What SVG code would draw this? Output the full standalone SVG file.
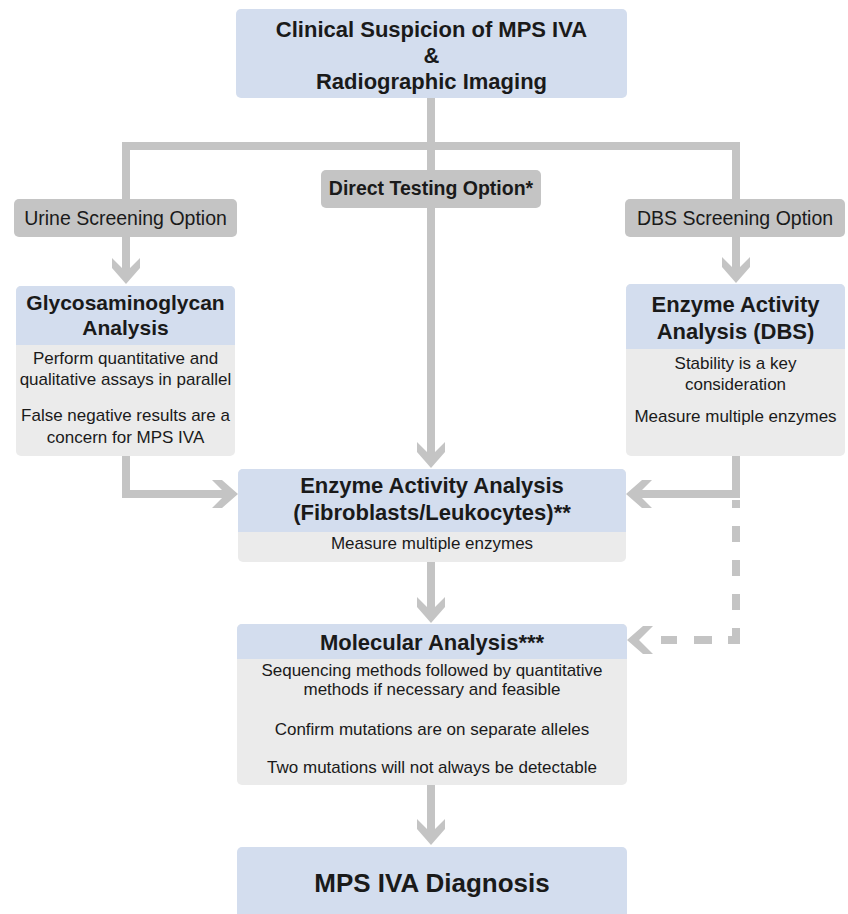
<svg xmlns="http://www.w3.org/2000/svg" xmlns:xlink="http://www.w3.org/1999/xlink" width="848" height="914" viewBox="0 0 848 914">
<defs>
<style>
text{font-family:"Liberation Sans",Arial,Helvetica,sans-serif;fill:#1a1a1a;text-anchor:middle}
.t{font-size:22px;font-weight:bold}
.tg{font-size:21px;font-weight:bold}
.tb{font-size:26px;font-weight:bold}
.ob{font-size:19.5px;font-weight:bold}
.o{font-size:19.5px}
.b{font-size:17px}
.hd{fill:#d3ddee}
.bd{fill:#ebebeb}
.op{fill:#c4c4c4}
.ln{fill:none;stroke:#c4c4c4;stroke-width:8;stroke-linejoin:miter;stroke-linecap:butt}
.hh{fill:#c4c4c4}
</style>
<path id="chev" d="M-14,-26 L0,-12 L14,-26 L14,-16 L0,0 L-14,-16 Z"/>
</defs>
<rect width="848" height="914" fill="#ffffff"/>

<g id="connectors">
<path class="ln" d="M431,98 V170"/>
<path class="ln" d="M126,199 V146 H736 V199"/>
<path class="ln" d="M126,237 V279"/>
<use href="#chev" class="hh" transform="translate(126,284)"/>
<path class="ln" d="M736,237 V278"/>
<use href="#chev" class="hh" transform="translate(736,283)"/>
<path class="ln" d="M431,208 V463"/>
<use href="#chev" class="hh" transform="translate(431,468)"/>
<path class="ln" d="M126,456 V494 H233"/>
<use href="#chev" class="hh" transform="translate(238,494) rotate(-90)"/>
<path class="ln" d="M736,456 V494 H631"/>
<use href="#chev" class="hh" transform="translate(626,494) rotate(90)"/>
<path class="ln" d="M736,644 V500" stroke-dasharray="16 18"/>
<path class="ln" d="M740,640 H658" stroke-dasharray="12 16 18 17 16 20"/>
<use href="#chev" class="hh" transform="translate(627,640) rotate(90)"/>
<path class="ln" d="M431,562 V618"/>
<use href="#chev" class="hh" transform="translate(431,623)"/>
<path class="ln" d="M431,785 V840"/>
<use href="#chev" class="hh" transform="translate(431,845)"/>
</g>

<g id="n-clinical">
<rect class="hd" x="236" y="9" width="391" height="89" rx="5"/>
<text class="t" x="431.5" y="37">Clinical Suspicion of MPS IVA</text>
<text class="t" x="431.5" y="63">&amp;</text>
<text class="t" x="431.5" y="89">Radiographic Imaging</text>
</g>

<g id="n-direct">
<rect class="op" x="321" y="170" width="220" height="38" rx="5"/>
<text class="ob" x="431" y="195">Direct Testing Option*</text>
</g>

<g id="n-urine">
<rect class="op" x="14" y="199" width="223" height="38" rx="5"/>
<text class="o" x="125.5" y="225">Urine Screening Option</text>
</g>

<g id="n-dbs">
<rect class="op" x="625" y="199" width="220" height="38" rx="5"/>
<text class="o" x="735" y="225">DBS Screening Option</text>
</g>

<g id="n-gag">
<rect class="bd" x="16" y="286" width="219" height="170" rx="5"/>
<path class="hd" d="M16,345 V291 A5,5 0 0 1 21,286 H230 A5,5 0 0 1 235,291 V345 Z"/>
<text class="tg" x="125.5" y="310">Glycosaminoglycan</text>
<text class="tg" x="125.5" y="335">Analysis</text>
<text class="b" x="125.5" y="364">Perform quantitative and</text>
<text class="b" x="125.5" y="385">qualitative assays in parallel</text>
<text class="b" x="125.5" y="421">False negative results are a</text>
<text class="b" x="125.5" y="443">concern for MPS IVA</text>
</g>

<g id="n-eaa-dbs">
<rect class="bd" x="626" y="284" width="219" height="172" rx="5"/>
<path class="hd" d="M626,349 V289 A5,5 0 0 1 631,284 H840 A5,5 0 0 1 845,289 V349 Z"/>
<text class="t" x="735.5" y="312">Enzyme Activity</text>
<text class="t" x="735.5" y="339">Analysis (DBS)</text>
<text class="b" x="735.5" y="369">Stability is a key</text>
<text class="b" x="735.5" y="390">consideration</text>
<text class="b" x="735.5" y="422">Measure multiple enzymes</text>
</g>

<g id="n-eaa-fl">
<rect class="bd" x="238" y="469" width="388" height="93" rx="5"/>
<path class="hd" d="M238,532 V474 A5,5 0 0 1 243,469 H621 A5,5 0 0 1 626,474 V532 Z"/>
<text class="t" x="432" y="493">Enzyme Activity Analysis</text>
<text class="t" x="432" y="520">(Fibroblasts/Leukocytes)**</text>
<text class="b" x="432" y="549">Measure multiple enzymes</text>
</g>

<g id="n-molecular">
<rect class="bd" x="237" y="624" width="390" height="161" rx="5"/>
<path class="hd" d="M237,659 V629 A5,5 0 0 1 242,624 H622 A5,5 0 0 1 627,629 V659 Z"/>
<text class="t" x="432" y="650">Molecular Analysis***</text>
<text class="b" x="432" y="676">Sequencing methods followed by quantitative</text>
<text class="b" x="432" y="695">methods if necessary and feasible</text>
<text class="b" x="432" y="735">Confirm mutations are on separate alleles</text>
<text class="b" x="432" y="773">Two mutations will not always be detectable</text>
</g>

<g id="n-diagnosis">
<rect class="hd" x="237" y="847" width="390" height="80" rx="5"/>
<text class="tb" x="432" y="892">MPS IVA Diagnosis</text>
</g>
</svg>
